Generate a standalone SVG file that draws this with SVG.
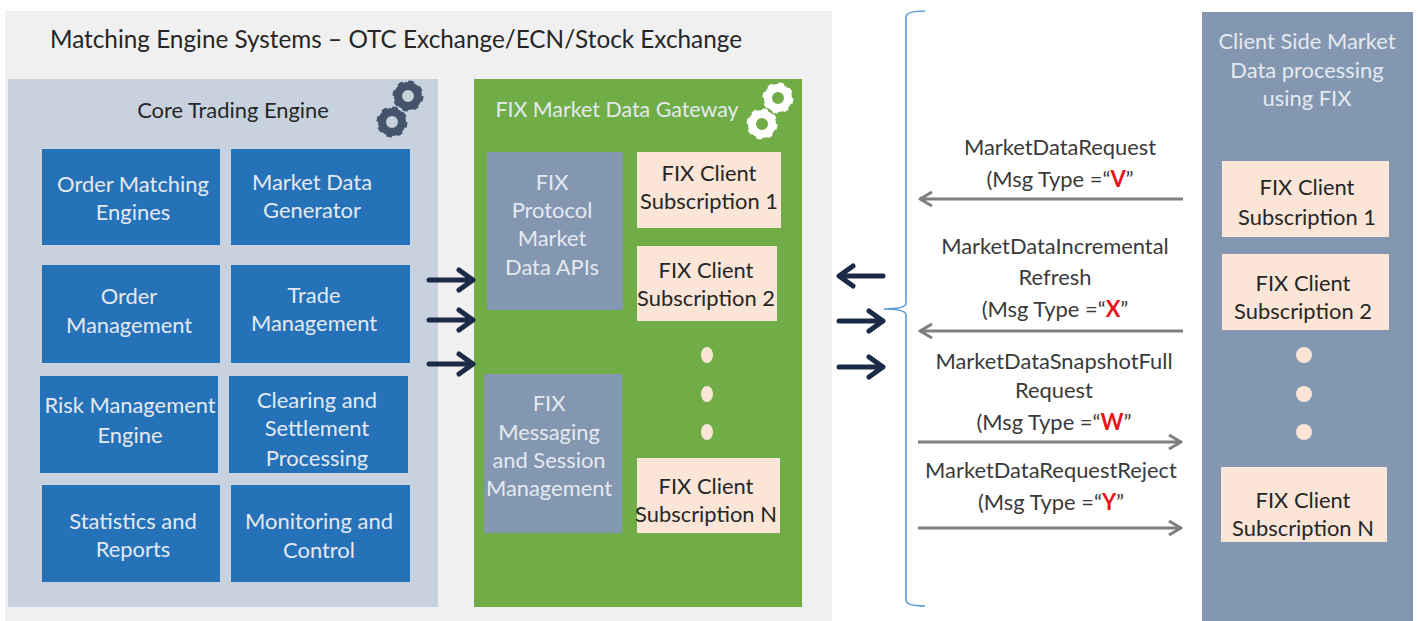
<svg xmlns="http://www.w3.org/2000/svg" width="1418" height="621" viewBox="0 0 1418 621">
<style>
text{font-family:"Lato","Liberation Sans",sans-serif;font-size:21.9px;text-anchor:middle;fill:#3a3a3a;transform:translateY(-.6px)}
.k{fill:#262626}.lt{fill:#e4e9f0}
.b{fill:#2672b8}.g{fill:#8497b0}.p{fill:#fbe5d6}
.r{fill:#e8141c;font-weight:700}
.dk{fill:none;stroke:#1b2a47;stroke-width:5;stroke-linecap:round;stroke-linejoin:round}
.gr{fill:none;stroke:#7f7f7f;stroke-width:3;stroke-linejoin:round}
.dot{fill:#fbe5d6}
</style>
<defs>
<g id="gear"><circle r="10" fill="none" stroke="currentColor" stroke-width="8"/><circle r="13" fill="none" stroke="currentColor" stroke-width="5" stroke-dasharray="5.1 5.1"/></g>
</defs>
<g id="matching-engine-systems">
<rect x="5" y="11" width="827" height="610" fill="#f0f0f0"/>
<text x="396" y="49" style="font-size:24.3px" class="k">Matching Engine Systems – OTC Exchange/ECN/Stock Exchange</text>
</g>
<g id="core-trading-engine">
<rect x="8" y="79" width="430" height="528" fill="#c8d2df"/>
<text x="233" y="119" class="k">Core Trading Engine</text>
<use href="#gear" x="408" y="96" color="#44546a"/><use href="#gear" x="392" y="122" color="#44546a"/>
</g>
<g id="order-matching"><rect class="b" x="42" y="149" width="178" height="96"/><text class="lt" x="133" y="193">Order Matching</text><text class="lt" x="133" y="221">Engines</text></g>
<g id="market-data-generator"><rect class="b" x="231" y="149" width="179" height="96"/><text class="lt" x="312" y="191">Market Data</text><text class="lt" x="312" y="219">Generator</text></g>
<g id="order-management"><rect class="b" x="42" y="265" width="178" height="98"/><text class="lt" x="129" y="305">Order</text><text class="lt" x="129" y="334">Management</text></g>
<g id="trade-management"><rect class="b" x="231" y="265" width="179" height="98"/><text class="lt" x="314" y="304">Trade</text><text class="lt" x="314" y="332">Management</text></g>
<g id="risk-management"><rect class="b" x="40" y="376" width="178" height="97"/><text class="lt" x="130" y="414">Risk Management</text><text class="lt" x="130" y="444">Engine</text></g>
<g id="clearing-settlement"><rect class="b" x="229" y="376" width="179" height="97"/><text class="lt" x="317" y="409">Clearing and</text><text class="lt" x="317" y="437">Settlement</text><text class="lt" x="317" y="467">Processing</text></g>
<g id="statistics-reports"><rect class="b" x="42" y="485" width="178" height="97"/><text class="lt" x="133" y="530">Statistics and</text><text class="lt" x="133" y="558">Reports</text></g>
<g id="monitoring-control"><rect class="b" x="231" y="485" width="179" height="97"/><text class="lt" x="319" y="530">Monitoring and</text><text class="lt" x="319" y="559">Control</text></g>
<g id="fix-gateway">
<rect x="474" y="79" width="328" height="528" fill="#70ad47"/>
<text class="lt" x="617" y="118" style="font-size:21.4px">FIX Market Data Gateway</text>
<use href="#gear" x="778" y="98" color="#fff"/><use href="#gear" x="762" y="124" color="#fff"/>
</g>
<g id="fix-market-data-apis"><rect class="g" x="487" y="152" width="136" height="158"/><text class="lt" x="552" y="191">FIX</text><text class="lt" x="552" y="219">Protocol</text><text class="lt" x="552" y="247">Market</text><text class="lt" x="552" y="276">Data APIs</text></g>
<g id="fix-messaging-session"><rect class="g" x="484" y="374" width="138" height="159"/><text class="lt" x="549" y="412">FIX</text><text class="lt" x="549" y="441">Messaging</text><text class="lt" x="549" y="469">and Session</text><text class="lt" x="549" y="497">Management</text></g>
<g id="gw-sub-1"><rect class="p" x="637" y="152" width="144" height="76"/><text class="k" x="709" y="182">FIX Client</text><text class="k" x="709" y="210">Subscription 1</text></g>
<g id="gw-sub-2"><rect class="p" x="637" y="246" width="140" height="75"/><text class="k" x="706" y="279">FIX Client</text><text class="k" x="706" y="307">Subscription 2</text></g>
<g id="gw-dots"><ellipse class="dot" cx="707" cy="355" rx="6" ry="8"/><ellipse class="dot" cx="707" cy="394" rx="6" ry="8"/><ellipse class="dot" cx="707" cy="432" rx="6" ry="8"/></g>
<g id="gw-sub-n"><rect class="p" x="637" y="458" width="143" height="75"/><text class="k" x="706" y="495">FIX Client</text><text class="k" x="706" y="523">Subscription N</text></g>
<g id="client-side">
<rect x="1202" y="12" width="211" height="609" fill="#8497b0"/>
<text class="lt" x="1307" y="50">Client Side Market</text><text class="lt" x="1307" y="79">Data processing</text><text class="lt" x="1307" y="107">using FIX</text>
</g>
<g id="client-sub-1"><rect class="p" x="1222" y="161" width="167" height="76"/><text class="k" x="1307" y="196">FIX Client</text><text class="k" x="1307" y="226">Subscription 1</text></g>
<g id="client-sub-2"><rect class="p" x="1222" y="254" width="167" height="76"/><text class="k" x="1303" y="292">FIX Client</text><text class="k" x="1303" y="320">Subscription 2</text></g>
<g id="client-dots"><circle class="dot" cx="1304" cy="355" r="8"/><circle class="dot" cx="1304" cy="394" r="8"/><circle class="dot" cx="1304" cy="432" r="8"/></g>
<g id="client-sub-n"><rect class="p" x="1221" y="467" width="166" height="75"/><text class="k" x="1303" y="509">FIX Client</text><text class="k" x="1303" y="537">Subscription N</text></g>
<g id="labels">
<text x="1060" y="156">MarketDataRequest</text><text x="1060" y="188">(Msg Type =“<tspan class="r">V</tspan>”</text>
<text x="1055" y="255">MarketDataIncremental</text><text x="1055" y="286">Refresh</text><text x="1055" y="318">(Msg Type =“<tspan class="r">X</tspan>”</text>
<text x="1054" y="370">MarketDataSnapshotFull</text><text x="1054" y="399">Request</text><text x="1054" y="431">(Msg Type =“<tspan class="r">W</tspan>”</text>
<text x="1051" y="479">MarketDataRequestReject</text><text x="1051" y="511">(Msg Type =“<tspan class="r">Y</tspan>”</text>
</g>
<g id="connectors">
<path class="dk" d="M429 280H472M459 270L473 280L459 290"/>
<path class="dk" d="M429 320H472M459 310L473 320L459 330"/>
<path class="dk" d="M429 364H472M459 354L473 364L459 374"/>
<path class="dk" d="M883 276H840M853 266L839 276L853 286"/>
<path class="dk" d="M839 321H882M869 311L883 321L869 331"/>
<path class="dk" d="M839 367H882M869 357L883 367L869 377"/>
<path d="M925 11Q906 11 906 17V303Q906 309 884 309Q906 309 906 315V600Q906 606 925 606" fill="none" stroke="#5b9bd5" stroke-width="1.6"/>
<path class="gr" d="M1183 199H920M932 192L920 199L932 206"/>
<path class="gr" d="M1183 331H920M932 324L920 331L932 338"/>
<path class="gr" d="M918 442H1181M1169 435L1181 442L1169 449"/>
<path class="gr" d="M918 528H1181M1169 521L1181 528L1169 535"/>
</g>
</svg>
